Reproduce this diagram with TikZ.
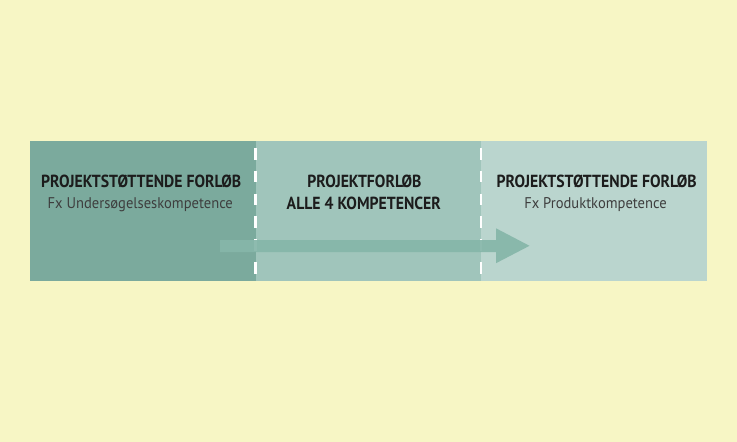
\documentclass[tikz,border=0pt]{standalone}
\usepackage{fontspec}
\setmainfont{PT Sans}
\newfontfamily\titlefont[FakeStretch=0.90]{PT Sans Bold}
\newfontfamily\subfont[FakeStretch=0.94]{PT Sans}
\definecolor{bgyellow}{HTML}{F7F6C5}
\definecolor{panelA}{HTML}{7BAA9D}
\definecolor{panelB}{HTML}{A0C5BB}
\definecolor{panelC}{HTML}{BAD5CE}
\definecolor{arrowc}{HTML}{86B6A9}
\definecolor{inkc}{HTML}{1C1C1C}
\tikzset{
  panel/.style={draw=none},
  divider/.style={white, line width=2.5pt, dash pattern=on 11.5pt off 11.3pt, dash phase=15.8pt},
  titletext/.style={anchor=base, inner sep=0pt, text=inkc, font=\titlefont\fontsize{17.5}{20}\selectfont},
  subtext/.style={anchor=base, inner sep=0pt, text=inkc!85, font=\subfont\fontsize{15.5}{18}\selectfont},
  flowarrow/.style={fill=arrowc, fill opacity=0.93}
}
\begin{document}
\begin{tikzpicture}[x=1pt,y=-1pt]
\fill[bgyellow] (0,0) rectangle (737,442);
\useasboundingbox (0,0) rectangle (737,442);
% panels
\fill[panelA] (30,141) rectangle (255.5,281);
\fill[panelB] (255.5,141) rectangle (481,281);
\fill[panelC] (481,141) rectangle (707,281);
% dividers
\coordinate (d1top) at (255.5,141);
\coordinate (d1bot) at (255.5,281);
\coordinate (d2top) at (481,141);
\coordinate (d2bot) at (481,281);
\draw[divider] (d1top) -- (d1bot);
\draw[divider] (d2top) -- (d2bot);
% arrow
\fill[flowarrow] (220,240) -- (496,240) -- (496,228.3) -- (529.5,245.8) -- (496,263.2) -- (496,252) -- (220,252) -- cycle;
% texts
\node[titletext] (t1) at (141.2,187.3) {PROJEKTSTØTTENDE FORLØB};
\node[subtext] (s1) at (140.3,208.3) {Fx Undersøgelseskompetence};
\node[titletext] (t2) at (364.4,187.3) {PROJEKTFORLØB};
\node[titletext] (s2) at (363.8,209.8) {ALLE 4 KOMPETENCER};
\node[titletext] (t3) at (596.7,187.3) {PROJEKTSTØTTENDE FORLØB};
\node[subtext] (s3) at (595.5,208.3) {Fx Produktkompetence};
\end{tikzpicture}
\end{document}
